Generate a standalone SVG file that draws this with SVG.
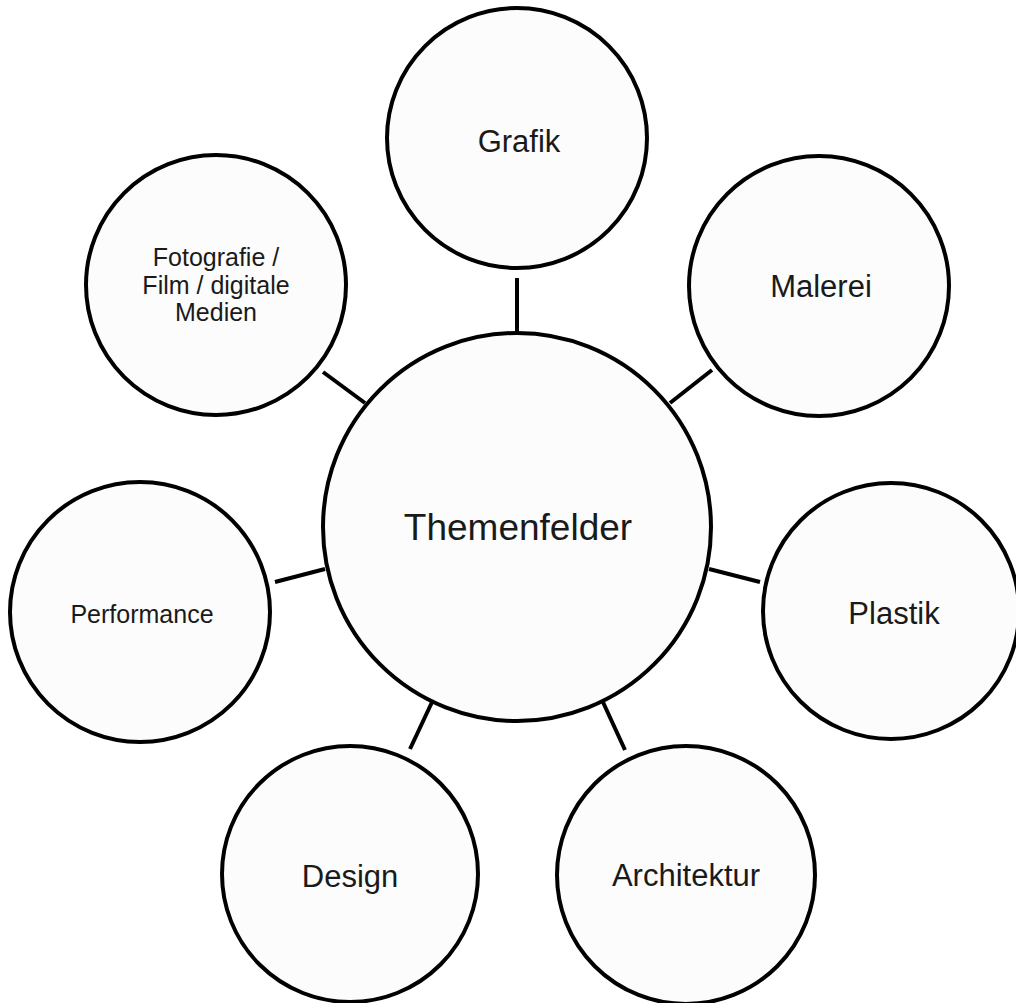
<svg xmlns="http://www.w3.org/2000/svg" width="1016" height="1003" viewBox="0 0 1016 1003">
  <style>
    .node { fill: #fcfcfc; stroke: #000; stroke-width: 4; }
    .link { stroke: #000; stroke-width: 4; stroke-linecap: butt; fill: none; }
    .label { font-family: "Liberation Sans", Arial, sans-serif; fill: #1a1a1a; text-anchor: middle; }
    .big { font-size: 37px; }
    .mid { font-size: 31px; }
    .small { font-size: 25px; }
  </style>
  <rect width="1016" height="1003" fill="#fff"/>

  <!-- spokes from the hub to each field -->
  <g id="connectors">
    <line class="link" x1="517" y1="278" x2="517" y2="334"/>
    <line class="link" x1="712" y1="370" x2="670" y2="403"/>
    <line class="link" x1="760" y1="582" x2="709" y2="569"/>
    <line class="link" x1="625" y1="750" x2="602" y2="700"/>
    <line class="link" x1="410" y1="749" x2="433" y2="700"/>
    <line class="link" x1="275" y1="582" x2="325" y2="569"/>
    <line class="link" x1="323" y1="372" x2="365" y2="403"/>
  </g>

  <g id="hub">
    <circle class="node" cx="517" cy="527" r="194"/>
    <text class="label big" x="518" y="540">Themenfelder</text>
  </g>

  <g id="grafik">
    <circle class="node" cx="517" cy="138" r="130"/>
    <text class="label mid" x="519" y="152">Grafik</text>
  </g>

  <g id="malerei">
    <circle class="node" cx="819" cy="286" r="130"/>
    <text class="label mid" x="821" y="297">Malerei</text>
  </g>

  <g id="plastik">
    <circle class="node" cx="891" cy="611" r="128"/>
    <text class="label mid" x="894" y="624">Plastik</text>
  </g>

  <g id="architektur">
    <circle class="node" cx="686" cy="875" r="129"/>
    <text class="label mid" x="686" y="886">Architektur</text>
  </g>

  <g id="design">
    <circle class="node" cx="350" cy="874" r="128"/>
    <text class="label mid" x="350" y="887">Design</text>
  </g>

  <g id="performance">
    <circle class="node" cx="140" cy="612" r="130"/>
    <text class="label small" x="142" y="623">Performance</text>
  </g>

  <g id="fotografie">
    <circle class="node" cx="216" cy="285" r="130"/>
    <text class="label small" x="216" y="266">Fotografie /</text>
    <text class="label small" x="216" y="294">Film / digitale</text>
    <text class="label small" x="216" y="321">Medien</text>
  </g>
</svg>
